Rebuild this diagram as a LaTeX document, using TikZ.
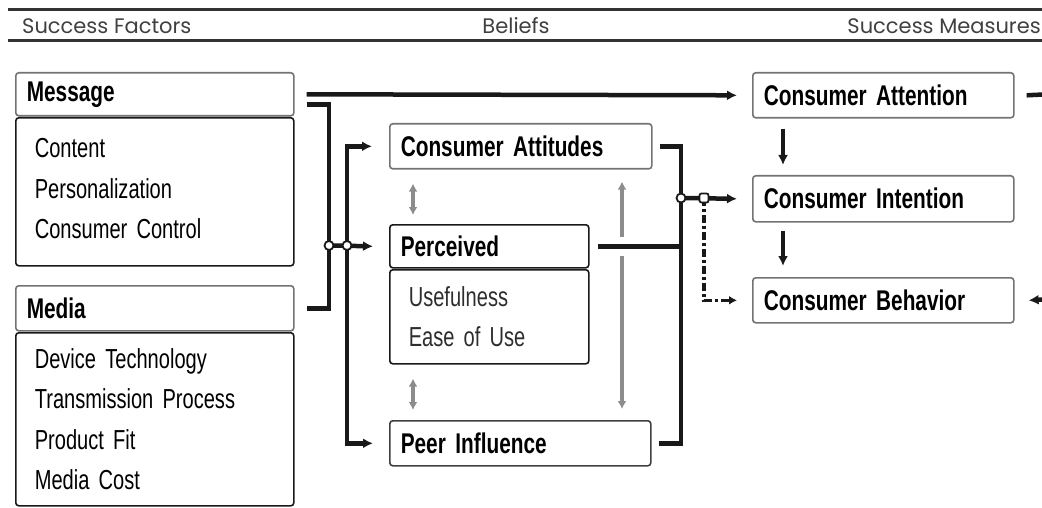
\documentclass[tikz,border=0pt]{standalone}
\usepackage{fontspec}
\setmainfont{Liberation Sans}[FakeStretch=0.73, WordSpace=0.7]
\newfontfamily\hdrfont{Poppins}
\usetikzlibrary{arrows.meta}
\definecolor{boxgray}{gray}{0.45}
\definecolor{ink}{gray}{0.1}
\definecolor{lightarr}{gray}{0.55}
\tikzset{
  conn/.style={line width=4.5pt, draw=ink},
  arr/.style={-{Latex[length=10pt,width=10pt]}},
  darr/.style={{Latex[length=8pt,width=9pt]}-{Latex[length=8pt,width=9pt]}, line width=3.4pt, draw=lightarr},
  ddash/.style={line width=3.4pt, draw=ink, dash pattern=on 8pt off 3pt on 3pt off 3pt},
  hline/.style={line width=2.4pt, draw=black!80},
  hdrtext/.style={font=\hdrfont\fontsize{21}{24}\selectfont, text=black!75, inner sep=0pt},
  labbox/.style={draw=boxgray, line width=1.6pt, rounded corners=3pt, anchor=north west,
     inner xsep=11pt, inner ysep=0pt, align=left, font=\bfseries\fontsize{28.5}{30}\selectfont},
  bodybox/.style={draw=ink, line width=1.6pt, rounded corners=3pt, anchor=north west,
     inner xsep=19pt, inner ysep=0pt, align=left, font=\fontsize{27.5}{40.5}\selectfont},
  jcirc/.style={circle, draw=ink, fill=white, line width=1.8pt, inner sep=0pt, minimum size=9pt},
  jsq/.style={rectangle, rounded corners=2pt, draw=ink, fill=white, line width=1.8pt, inner sep=0pt, minimum size=9pt},
}
\begin{document}
\begin{tikzpicture}[x=1pt,y=-1pt]
\useasboundingbox (0,0) rectangle (1042,508);
% header rules
\draw[hline] (8,9.5) -- (1042,9.5);
\draw[hline] (8,40.5) -- (1042,40.5);
\node[hdrtext, anchor=west] (sf) at (22,26) {Success Factors};
\node[hdrtext] (bel) at (516,26) {Beliefs};
\node[hdrtext, anchor=east] (sm) at (1041,26) {Success Measures};

% left column
\node[labbox, minimum width=278pt, minimum height=43pt, text width=256pt] (msgh) at (15,72) {Message};
\node[bodybox, minimum width=278pt, minimum height=148pt, text width=240pt] (msgb) at (15,117) {Content\\Personalization\\Consumer Control\vspace{6pt}};
\node[labbox, minimum width=278pt, minimum height=45pt, text width=256pt] (medh) at (15,285) {Media};
\node[bodybox, minimum width=278pt, minimum height=173pt, text width=240pt] (medb) at (15,332) {Device Technology\\Transmission Process\\Product Fit\\Media Cost};

% middle column
\node[labbox, minimum width=262pt, minimum height=45pt, text width=240pt] (ca) at (389,123) {Consumer Attitudes};
\node[labbox, draw=ink, minimum width=199pt, minimum height=43pt, text width=177pt] (perch) at (389,224) {Perceived};
\node[bodybox, minimum width=199pt, minimum height=94pt, text width=161pt, text=black!82] (percb) at (389,269) {Usefulness\\Ease of Use};
\node[labbox, draw=black!75, minimum width=261pt, minimum height=45pt, text width=239pt] (peer) at (389,420) {Peer Influence};

% right column
\node[labbox, minimum width=261pt, minimum height=45pt, text width=239pt] (att) at (752,72) {Consumer Attention};
\node[labbox, minimum width=261pt, minimum height=46pt, text width=239pt] (int) at (752,175) {Consumer Intention};
\node[labbox, minimum width=261pt, minimum height=45pt, text width=239pt] (beh) at (752,277) {Consumer Behavior};

% junction coordinates
\coordinate (j1) at (329,245.5);
\coordinate (j2) at (347,245.5);
\coordinate (j3) at (681,198);
\coordinate (j4) at (704,198);
\coordinate (outA) at (1043,94.5);
\coordinate (outB) at (1043,299.5);

% gray double arrows
\draw[darr] ([xshift=24pt,yshift=-14pt]ca.south west) -- ([xshift=24pt,yshift=9pt]perch.north west);
\draw[darr] ([xshift=24pt,yshift=-14pt]percb.south west) -- ([xshift=24pt,yshift=10pt]peer.north west);
\draw[darr] ([xshift=233pt,yshift=-12pt]ca.south west) -- ([xshift=233pt,yshift=11pt]peer.north west);

% left connectors
\draw[conn,arr] ([xshift=12pt]msgh.east) -- ([xshift=-15pt]att.west);
\draw[conn] ([xshift=12pt,yshift=-10pt]msgh.east) -| (j1) |- ([xshift=12pt]medh.east);
\draw[conn,arr] (j2) |- ([xshift=-17pt]ca.west);
\draw[conn,arr] (j2) |- ([xshift=-16pt]peer.west);
\draw[conn,arr] (j1) -- ([xshift=-16pt]perch.west);

% right connectors
\draw[conn, preaction={draw=white, line width=19pt}] ([xshift=8pt]perch.east) -- (perch.east -| j3);
\draw[conn] ([xshift=7pt]ca.east) -| (j3);
\draw[conn] ([xshift=7pt]peer.east) -| (j3);
\draw[conn,arr] (j3) -- ([xshift=-15pt]int.west);
\draw[ddash,-{Latex[length=8pt,width=9pt]}] (j4) |- ([xshift=-15pt]beh.west);

% measures chain
\draw[conn,arr] ([xshift=31pt,yshift=-10pt]att.south west) -- ([xshift=31pt,yshift=10pt]int.north west);
\draw[conn,arr] ([xshift=31pt,yshift=-8pt]int.south west) -- ([xshift=31pt,yshift=11pt]beh.north west);
\draw[conn] ([xshift=12pt]att.east) -- (outA);
\draw[conn,arr] (outB) -- ([xshift=14pt]beh.east);

% junction markers
\node[jcirc] (m1) at (j1) {};
\node[jcirc] (m2) at (j2) {};
\node[jcirc] (m3) at (j3) {};
\node[jsq] (m4) at (j4) {};
\end{tikzpicture}
\end{document}
